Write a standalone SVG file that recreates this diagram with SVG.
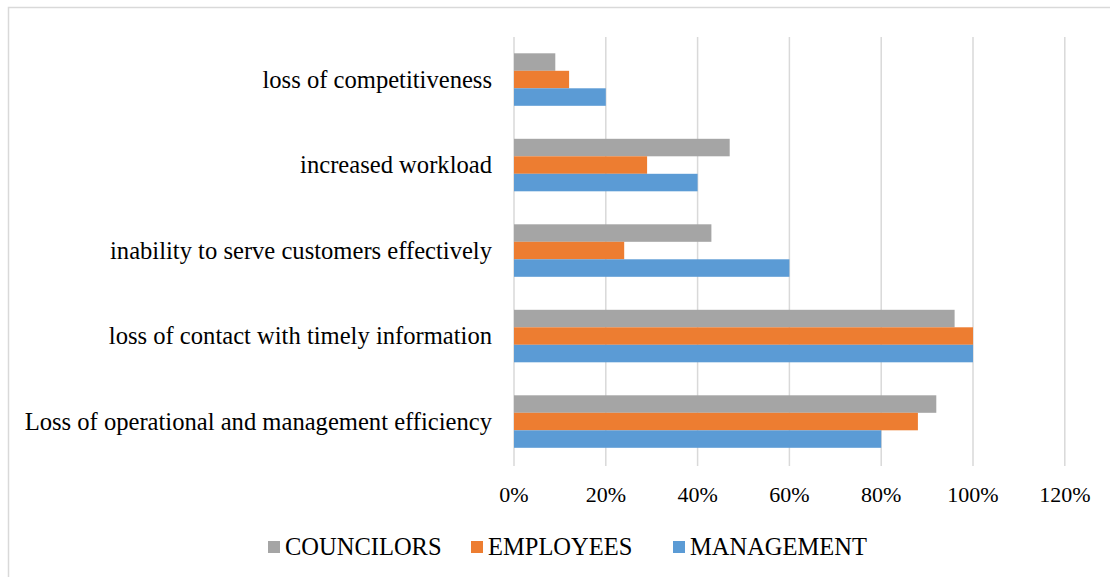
<svg xmlns="http://www.w3.org/2000/svg" width="1110" height="577" viewBox="0 0 1110 577">
<style>
.t{font-family:"Liberation Serif","Times New Roman",serif;fill:#000}
.lab{font-size:24.6px;text-anchor:end}
.ax{font-size:22px;text-anchor:middle}
.leg{font-size:24.5px}
.g{stroke:#D9D9D9;stroke-width:1.5}
.c{fill:#A5A5A5}
.e{fill:#ED7D31}
.m{fill:#5B9BD5}
</style>
<rect width="1110" height="577" fill="#fff"/>
<rect x="8.5" y="7.5" width="1110" height="590" fill="none" stroke="#D9D9D9" stroke-width="1.5"/>
<g id="gridlines">
<line class="g" x1="514" y1="37" x2="514" y2="466"/>
<line class="g" x1="605.8" y1="37" x2="605.8" y2="466"/>
<line class="g" x1="697.6" y1="37" x2="697.6" y2="466"/>
<line class="g" x1="789.4" y1="37" x2="789.4" y2="466"/>
<line class="g" x1="881.2" y1="37" x2="881.2" y2="466"/>
<line class="g" x1="973" y1="37" x2="973" y2="466"/>
<line class="g" x1="1064.8" y1="37" x2="1064.8" y2="466"/>
</g>
<g id="cat-competitiveness">
<rect class="c" x="514" y="53.3" width="41.3" height="17.5"/>
<rect class="e" x="514" y="70.8" width="55.1" height="17.5"/>
<rect class="m" x="514" y="88.3" width="91.8" height="17.5"/>
<text class="t lab" x="492" y="87.5">loss of competitiveness</text>
</g>
<g id="cat-workload">
<rect class="c" x="514" y="138.8" width="215.7" height="17.5"/>
<rect class="e" x="514" y="156.3" width="133.1" height="17.5"/>
<rect class="m" x="514" y="173.8" width="183.6" height="17.5"/>
<text class="t lab" x="492" y="173">increased workload</text>
</g>
<g id="cat-customers">
<rect class="c" x="514" y="224.3" width="197.4" height="17.5"/>
<rect class="e" x="514" y="241.8" width="110.2" height="17.5"/>
<rect class="m" x="514" y="259.3" width="275.4" height="17.5"/>
<text class="t lab" x="492" y="258.5">inability to serve customers effectively</text>
</g>
<g id="cat-information">
<rect class="c" x="514" y="309.8" width="440.6" height="17.5"/>
<rect class="e" x="514" y="327.3" width="459" height="17.5"/>
<rect class="m" x="514" y="344.8" width="459" height="17.5"/>
<text class="t lab" x="492" y="344">loss of contact with timely information</text>
</g>
<g id="cat-efficiency">
<rect class="c" x="514" y="395.3" width="422.3" height="17.5"/>
<rect class="e" x="514" y="412.8" width="403.9" height="17.5"/>
<rect class="m" x="514" y="430.3" width="367.2" height="17.5"/>
<text class="t lab" x="492" y="429.5">Loss of operational and management efficiency</text>
</g>
<g id="axis">
<text class="t ax" x="514" y="502">0%</text>
<text class="t ax" x="605.8" y="502">20%</text>
<text class="t ax" x="697.6" y="502">40%</text>
<text class="t ax" x="789.4" y="502">60%</text>
<text class="t ax" x="881.2" y="502">80%</text>
<text class="t ax" x="973" y="502">100%</text>
<text class="t ax" x="1064.8" y="502">120%</text>
</g>
<g id="legend">
<rect class="c" x="268" y="541" width="12" height="12"/>
<text class="t leg" x="285" y="555">COUNCILORS</text>
<rect class="e" x="471" y="541" width="12" height="12"/>
<text class="t leg" x="488" y="555">EMPLOYEES</text>
<rect class="m" x="673" y="541" width="12" height="12"/>
<text class="t leg" x="690" y="555">MANAGEMENT</text>
</g>
</svg>
